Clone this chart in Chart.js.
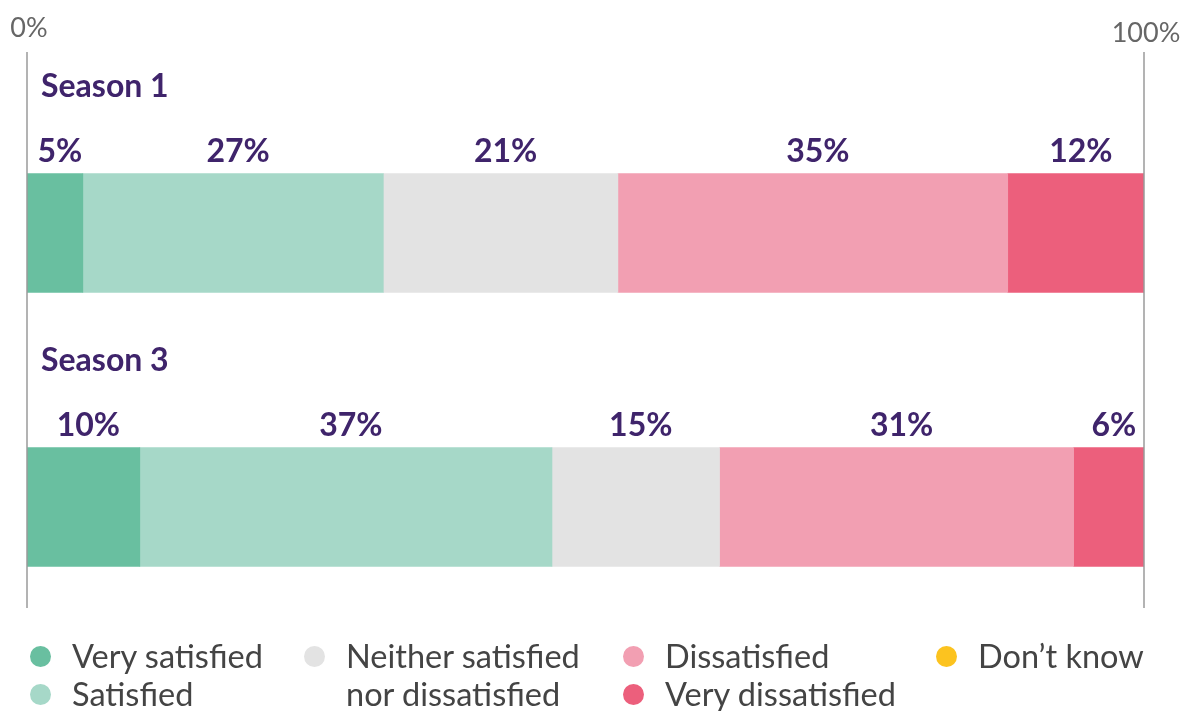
<!DOCTYPE html>
<html>
<head>
<meta charset="utf-8">
<script src="https://cdn.jsdelivr.net/npm/chart.js@4"></script>
<style>
  html, body { margin: 0; padding: 0; background: #fff; }
  #wrap { position: relative; width: 1184px; height: 711px; overflow: hidden; }
  #legend {
    position: absolute; left: 30px; top: 637px;
    display: grid; grid-template-rows: 38px 38px; grid-auto-flow: column;
    grid-template-columns: 274px 319px 313px 220px;
    font-family: Lato, sans-serif; font-size: 32.5px; color: #444; font-weight: 400;
  }
  .item { display: flex; align-items: flex-start; line-height: 38px; white-space: nowrap; }
  .item.tall { grid-row: span 2; }
  .dot { width: 21px; height: 21px; border-radius: 50%; margin-top: 9px; margin-right: 21px; flex: none; }
</style>
</head>
<body>
<div id="wrap">
  <canvas id="c" width="1184" height="711"></canvas>
  <div id="legend"></div>
</div>
<script>
const seasons = ["Season 1", "Season 3"];
const responses = ["Very satisfied", "Satisfied", "Neither satisfied nor dissatisfied", "Dissatisfied", "Very dissatisfied", "Don\u2019t know"];
const colours = ["#69bfa0", "#a6d8c8", "#e3e3e3", "#f29fb2", "#ec5f7c", "#fcc31f"];
// share of respondents per response, one entry per season
const veryS = [5.0, 10.1];
const sat = [26.9, 36.9];
const neither = [21.0, 15.0];
const dissat = [34.9, 31.7];
const veryD = [12.2, 6.3];
const dontKnow = [0, 0];
// printed labels as shown on the chart
const labelText = [["5%", "10%"], ["27%", "37%"], ["21%", "15%"], ["35%", "31%"], ["12%", "6%"], [null, null]];
const axisTicks = [0, 100];

const seriesVals = [veryS, sat, neither, dissat, veryD, dontKnow];
const purple = "#3f246b";

const overlay = {
  id: "overlay",
  afterDatasetsDraw(chart) {
    const ctx = chart.ctx;
    const xs = chart.scales.x;
    ctx.save();
    // vertical 0% / 100% lines and their labels
    ctx.strokeStyle = "#9a9a9a";
    ctx.lineWidth = 1.5;
    ctx.fillStyle = "#666";
    ctx.font = "27px Lato, sans-serif";
    ctx.textAlign = "center";
    ctx.textBaseline = "middle";
    axisTicks.forEach((t, i) => {
      const x = xs.getPixelForValue(t);
      ctx.beginPath();
      ctx.moveTo(x, 52);
      ctx.lineTo(x, 608);
      ctx.stroke();
      ctx.fillText(t + "%", x + 2, i ? 33 : 28);
    });
    // season titles and value labels
    seasons.forEach((s, j) => {
      const bar0 = chart.getDatasetMeta(0).data[j];
      const top = bar0.y - bar0.height / 2;
      ctx.fillStyle = purple;
      ctx.textAlign = "left";
      ctx.textBaseline = "alphabetic";
      ctx.font = "bold 32px Lato, sans-serif";
      ctx.fillText(s, xs.getPixelForValue(0) + 14, top - 77);
      ctx.textAlign = "center";
      chart.data.datasets.forEach((ds, i) => {
        const txt = labelText[i][j];
        if (!txt) return;
        const el = chart.getDatasetMeta(i).data[j];
        ctx.fillText(txt, (el.base + el.x) / 2 + 5, top - 12);
      });
    });
    ctx.restore();
  }
};

new Chart(document.getElementById("c").getContext("2d"), {
  type: "bar",
  data: {
    labels: seasons,
    datasets: responses.map((r, i) => ({
      label: r,
      data: seriesVals[i],
      backgroundColor: colours[i],
      borderWidth: 0,
      barThickness: 119
    }))
  },
  options: {
    indexAxis: "y",
    responsive: false,
    animation: false,
    layout: { padding: { left: 27, right: 40, top: 96, bottom: 67 } },
    scales: {
      x: { stacked: true, min: 0, max: 100, display: false },
      y: { stacked: true, display: false }
    },
    plugins: { legend: { display: false }, tooltip: { enabled: false } }
  },
  plugins: [overlay]
});

const lg = document.getElementById("legend");
responses.forEach((r, i) => {
  const d = document.createElement("div");
  d.className = "item" + (i === 2 ? " tall" : "");
  const text = i === 2 ? "Neither satisfied<br>nor dissatisfied" : r;
  d.innerHTML = '<span class="dot" style="background:' + colours[i] + '"></span><span>' + text + "</span>";
  lg.appendChild(d);
});
</script>
</body>
</html>
